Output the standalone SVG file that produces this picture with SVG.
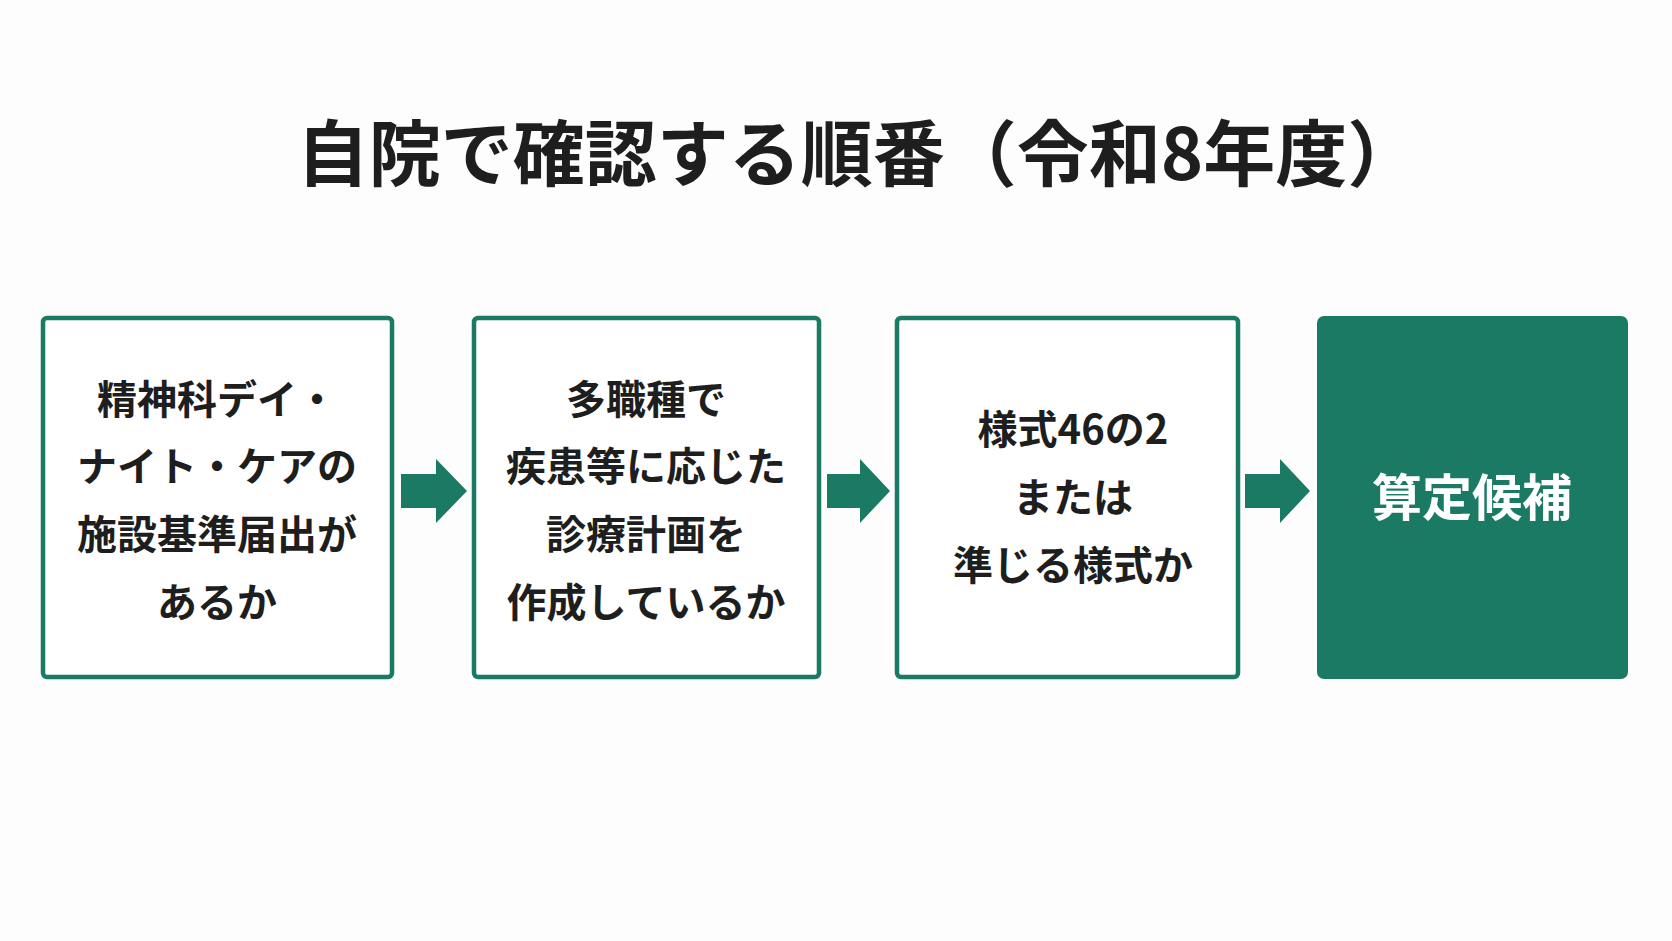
<svg xmlns="http://www.w3.org/2000/svg" width="1672" height="941" viewBox="0 0 1672 941">
<style>
.t{font-family:"Noto Sans CJK JP","Noto Sans",sans-serif;font-weight:700;fill:#1e1e1e;text-anchor:middle}
.b{fill:#fff;stroke:#1a7a64;stroke-width:4.5}
.s{font-size:40px}
.a{fill:#1a7a64}
</style>
<rect width="1672" height="941" fill="#fdfdfd"/>
<text class="t" x="858" y="180" font-size="72">自院で確認する順番（令和8年度）</text>
<g id="n1"><rect class="b" x="43" y="318" width="349" height="359" rx="4"/>
<text class="t s" x="217" y="414">精神科デイ・</text><text class="t s" x="217" y="481">ナイト・ケアの</text><text class="t s" x="217" y="549">施設基準届出が</text><text class="t s" x="217" y="617">あるか</text></g>
<g id="n2"><rect class="b" x="474" y="318" width="345" height="359" rx="4"/>
<text class="t s" x="646" y="414">多職種で</text><text class="t s" x="646" y="481">疾患等に応じた</text><text class="t s" x="646" y="549">診療計画を</text><text class="t s" x="646" y="617">作成しているか</text></g>
<g id="n3"><rect class="b" x="897" y="318" width="341" height="359" rx="4"/>
<text class="t s" x="1073" y="444">様式46の2</text><text class="t s" x="1073" y="512">または</text><text class="t s" x="1073" y="580">準じる様式か</text></g>
<g id="n4"><rect x="1317" y="316" width="311" height="363" rx="7" fill="#1a7a64"/>
<text class="t" x="1472" y="516" font-size="50" fill="#fff" style="fill:#fff">算定候補</text></g>
<g id="connectors">
<path class="a" d="M401 474H436V459L467 491L436 523V508H401Z"/>
<path class="a" d="M827 474H860V459L890 491L860 523V508H827Z"/>
<path class="a" d="M1245 474H1280V459L1310 491L1280 523V508H1245Z"/>
</g>
</svg>
